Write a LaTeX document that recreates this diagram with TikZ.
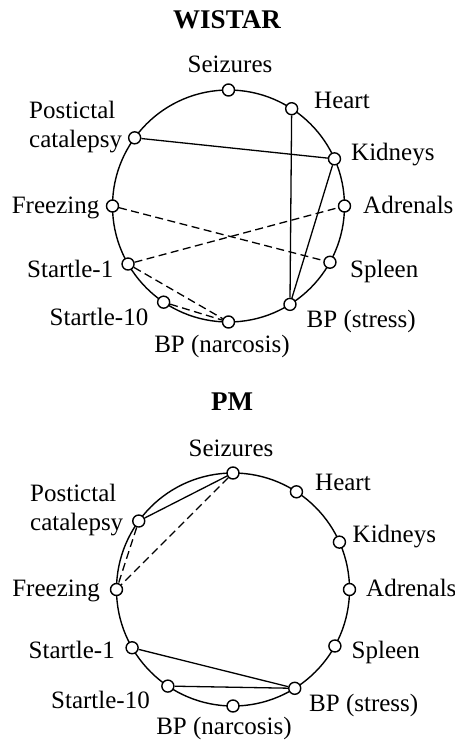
\documentclass[tikz,border=0pt]{standalone}
\usepackage{fontspec}
\setmainfont{Liberation Serif}
\begin{document}
\begin{tikzpicture}[x=1pt,y=1pt,
  vtx/.style={circle,draw,fill=white,line width=1.4pt,minimum size=12pt,inner sep=0pt},
  lbl/.style={inner sep=0pt,font=\fontsize{25}{30}\selectfont},
  ttl/.style={inner sep=0pt,font=\fontsize{27}{32}\selectfont\bfseries},
  ring/.style={line width=1.4pt},
  solidedge/.style={line width=1.3pt},
  dashedge/.style={line width=1.3pt,dash pattern=on 8pt off 4.5pt}]
\useasboundingbox (0,0) rectangle (455,-740);

% ---------------- WISTAR ----------------
\coordinate (cW) at (228.5,-206);
\draw[ring] (cW) circle (116);
\foreach \n/\a in {sz/90,ht/57,kd/24,ad/0,sp/-29,bps/-58,bpn/-90,sb/-124,sa/-150,fr/180,pc/144}
  \node[vtx] (W\n) at ([shift={(\a:116)}]cW) {};

\node[ttl,anchor=base] (Wtitle) at (227,-28) {WISTAR};
\node[lbl,anchor=base] (Wlsz) at (230,-72) {Seizures};
\node[lbl,anchor=base west] (Wlht) at (314,-108) {Heart};
\node[lbl,anchor=base west] (Wlpc1) at (29,-118) {Postictal};
\node[lbl,anchor=base west] (Wlpc2) at (29,-147) {catalepsy};
\node[lbl,anchor=base west] (Wlkd) at (351,-160.5) {Kidneys};
\node[lbl,anchor=base east] (Wlfr) at (99.5,-213) {Freezing};
\node[lbl,anchor=base west] (Wlad) at (363,-213) {Adrenals};
\node[lbl,anchor=base east] (Wlsa) at (113.5,-277) {Startle-1};
\node[lbl,anchor=base west] (Wlsp) at (350,-277) {Spleen};
\node[lbl,anchor=base east] (Wlsb) at (148.5,-325) {Startle-10};
\node[lbl,anchor=base west] (Wlbps) at (306.5,-327) {BP (stress)};
\node[lbl,anchor=base] (Wlbpn) at (222,-352) {BP (narcosis)};

\draw[solidedge] (Wpc) -- (Wkd);
\draw[solidedge] (Wht) -- (Wbps);
\draw[solidedge] (Wkd) -- (Wbps);
\draw[dashedge] (Wfr) -- (Wsp);
\draw[dashedge] (Wsa) -- (Wad);
\draw[dashedge] (Wsa) -- (Wbpn);
\draw[dashedge] (Wsb) -- (Wbpn);

% ---------------- PM ----------------
\coordinate (cP) at (233,-589.5);
\draw[ring] (cP) circle (116.5);
\foreach \n/\a in {sz/90,ht/57,kd/24,ad/0,sp/-29,bps/-58,bpn/-90,sb/-124,sa/-150,fr/180,pc/144}
  \node[vtx] (P\n) at ([shift={(\a:116.5)}]cP) {};

\node[ttl,anchor=base] (Ptitle) at (232,-410.5) {PM};
\node[lbl,anchor=base] (Plsz) at (231,-456) {Seizures};
\node[lbl,anchor=base west] (Plht) at (315,-490) {Heart};
\node[lbl,anchor=base west] (Plpc1) at (30,-501.5) {Postictal};
\node[lbl,anchor=base west] (Plpc2) at (30,-530) {catalepsy};
\node[lbl,anchor=base west] (Plkd) at (352.5,-542.5) {Kidneys};
\node[lbl,anchor=base east] (Plfr) at (100,-596.5) {Freezing};
\node[lbl,anchor=base west] (Plad) at (366,-596.5) {Adrenals};
\node[lbl,anchor=base east] (Plsa) at (115,-658) {Startle-1};
\node[lbl,anchor=base west] (Plsp) at (351.5,-658) {Spleen};
\node[lbl,anchor=base east] (Plsb) at (150,-708) {Startle-10};
\node[lbl,anchor=base west] (Plbps) at (309,-711.5) {BP (stress)};
\node[lbl,anchor=base] (Plbpn) at (224,-734) {BP (narcosis)};

\draw[solidedge] (Psz) -- (Ppc);
\draw[dashedge] (Psz) -- (Pfr);
\draw[dashedge] (Ppc) -- (Pfr);
\draw[solidedge] (Psa) -- (Pbps);
\draw[solidedge] (Psb) -- (Pbps);
\end{tikzpicture}
\end{document}
